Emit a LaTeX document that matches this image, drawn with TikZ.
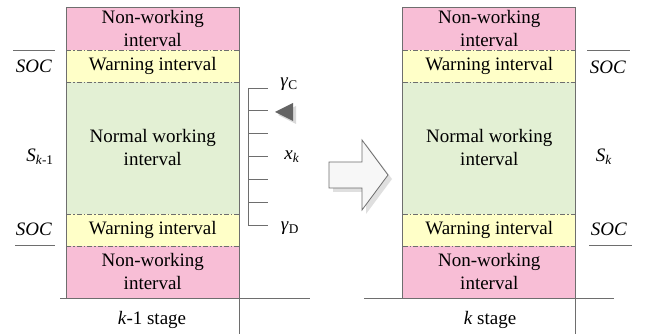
\documentclass[tikz,border=0pt]{standalone}
\usepackage{fontspec}
\setmainfont{Liberation Serif}
\newfontfamily\tms{Liberation Serif}
\definecolor{pinkb}{RGB}{248,190,214}
\definecolor{yelb}{RGB}{255,255,200}
\definecolor{greb}{RGB}{227,240,212}
\definecolor{edge}{RGB}{110,110,110}
\definecolor{tri}{RGB}{100,100,100}
\tikzset{
  band/.style={inner sep=0pt, minimum width=172.5pt, align=center, font=\tms\fontsize{19}{23}\selectfont},
  sep/.style={draw=edge, line width=0.9pt, dash pattern=on 5pt off 2pt on 1.5pt off 2pt},
  frame/.style={draw=edge, line width=0.8pt},
  lab/.style={inner sep=0pt, font=\tms\fontsize{19}{23}\selectfont},
  tick/.style={draw=edge, line width=0.8pt},
}
\begin{document}
\begin{tikzpicture}[x=1pt,y=-1pt]
\useasboundingbox (0,0) rectangle (654,334);
\foreach \c/\x in {L/66.5,R/403}{
  \node[band, fill=pinkb, minimum height=42pt] (\c np1) at (\x+86.25,29) {Non-working\\interval};
  \node[band, fill=yelb, minimum height=32pt] (\c w1) at (\x+86.25,66) {Warning interval};
  \node[band, fill=greb, minimum height=132pt] (\c nw) at (\x+86.25,148) {Normal working\\interval};
  \node[band, fill=yelb, minimum height=32pt] (\c w2) at (\x+86.25,230) {Warning interval};
  \node[band, fill=pinkb, minimum height=52pt] (\c np2) at (\x+86.25,272) {Non-working\\interval};
  \draw[frame] (\c np2.south west) -- (\c np1.north west) -- (\c np1.north east) -- (\c np2.south east);
  \draw[sep] (\c np1.south west) -- (\c np1.south east);
  \draw[sep] (\c w1.south west) -- (\c w1.south east);
  \draw[sep] (\c nw.south west) -- (\c nw.south east);
  \draw[sep] (\c w2.south west) -- (\c w2.south east);
}
% base lines
\coordinate (bl1) at (60,298); \coordinate (bl2) at (310,298);
\coordinate (vl1) at (238.9,296); \coordinate (vl2) at (238.9,334);
\coordinate (br1) at (364,298); \coordinate (br2) at (614,298);
\coordinate (vr1) at (575.5,296); \coordinate (vr2) at (575.5,334);
\draw[frame] (bl1) -- (bl2); \draw[frame] (vl1) -- (vl2);
\draw[frame] (br1) -- (br2); \draw[frame] (vr1) -- (vr2);
\node[lab] (stL) at (152,320) {\textit{k}-1 stage};
\node[lab] (stR) at (490,320) {\textit{k} stage};
% SOC labels
\node[lab] (socLU) at (34,66) {\textit{SOC}};
\coordinate (olu1) at (13,50); \coordinate (olu2) at (55,50);
\draw[frame] (olu1) -- (olu2);
\node[lab] (socLD) at (34,229) {\textit{SOC}};
\coordinate (uld1) at (15,245); \coordinate (uld2) at (55,245);
\draw[frame] (uld1) -- (uld2);
\node[lab] (socRU) at (608,67) {\textit{SOC}};
\coordinate (oru1) at (587,50); \coordinate (oru2) at (630,50);
\draw[frame] (oru1) -- (oru2);
\node[lab] (socRD) at (609,229) {\textit{SOC}};
\coordinate (urd1) at (589,245); \coordinate (urd2) at (632,245);
\draw[frame] (urd1) -- (urd2);
\node[lab] (SL) at (40,157) {\textit{S}\textsubscript{\textit{k}-1}};
\node[lab] (SR) at (604,157) {\textit{S}\textsubscript{\textit{k}}};
% ladder
\coordinate (lt) at (248,88); \coordinate (lb) at (248,225);
\draw[tick] (lt) -- (lb);
\foreach \i in {0,...,6}{
  \coordinate (t\i) at (248,88+22.83*\i);
  \coordinate (te\i) at (268,88+22.83*\i);
  \draw[tick] (t\i) -- (te\i);
}
\node[lab] (gC) at (289,84) {\textit{γ}\textsubscript{C}};
\node[lab] (gD) at (290,228) {\textit{γ}\textsubscript{D}};
\node[lab] (xk) at (292,157) {\textit{x}\textsubscript{\textit{k}}};
% triangle marker
\fill[gray!30] (278,115) -- (296,106) -- (296,124) -- cycle;
\fill[tri] (275,112) -- (293,103) -- (293,121) -- cycle;
% big arrow
\fill[gray!25] (333,166) -- (366,166) -- (366,144) -- (392,179) -- (366,214) -- (366,192) -- (333,192) -- cycle;
\draw[draw=edge, fill=gray!6, line width=0.8pt] (329,162) -- (362,162) -- (362,140) -- (388,175) -- (362,210) -- (362,188) -- (329,188) -- cycle;
\end{tikzpicture}
\end{document}
